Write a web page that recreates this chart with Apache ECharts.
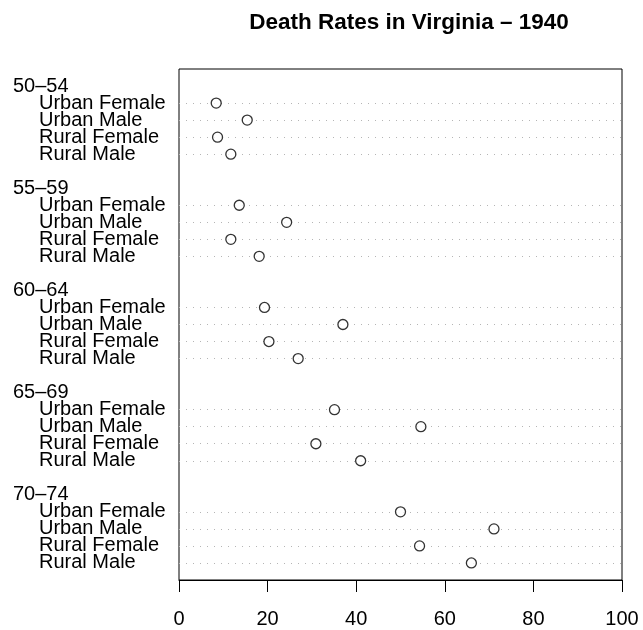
<!DOCTYPE html>
<html>
<head>
<meta charset="utf-8">
<script src="https://cdn.jsdelivr.net/npm/echarts@6/dist/echarts.min.js"></script>
<style>html,body{margin:0;padding:0;background:#fff;}#c{width:643px;height:630px;}</style>
</head>
<body>
<div id="c"></div>
<script>
var groups = ['50–54', '55–59', '60–64', '65–69', '70–74'];
var items = ['Urban Female', 'Urban Male', 'Rural Female', 'Rural Male'];
var urbanFemale = [8.4, 13.6, 19.3, 35.1, 50.0];
var urbanMale = [15.4, 24.3, 37.0, 54.6, 71.1];
var ruralFemale = [8.7, 11.7, 20.3, 30.9, 54.3];
var ruralMale = [11.7, 18.1, 26.9, 41.0, 66.0];
var xTicks = [0, 20, 40, 60, 80, 100];
var title = 'Death Rates in Virginia – 1940';

var seriesValues = [urbanFemale, urbanMale, ruralFemale, ruralMale];
var nRows = groups.length * (items.length + 2) - 1; // 29
var labelMap = {};
var points = [];
var rowPositions = [];
groups.forEach(function (g, gi) {
  var top = nRows - gi * (items.length + 2);
  labelMap[top] = {text: g, header: true};
  items.forEach(function (it, ii) {
    var pos = top - 1 - ii;
    labelMap[pos] = {text: it, header: false};
    rowPositions.push(pos);
    points.push([seriesValues[ii][gi], pos]);
  });
});

var FONT = '"Liberation Sans", Arial, Helvetica, sans-serif';
var chart = echarts.init(document.getElementById('c'), null, {renderer: 'canvas'});
chart.setOption({
  animation: false,
  backgroundColor: '#fff',
  title: {
    text: title,
    left: 404,
    top: 6,
    textAlign: 'center',
    textStyle: {fontFamily: FONT, fontSize: 22.5, fontWeight: 'bold', color: '#000'}
  },
  grid: {
    left: 179, right: 21, top: 69, bottom: 50,
    show: true, borderColor: '#000', borderWidth: 1, backgroundColor: 'transparent'
  },
  xAxis: {
    type: 'value', min: xTicks[0], max: xTicks[xTicks.length - 1], interval: 20,
    axisLine: {show: true, lineStyle: {color: '#000', width: 1}},
    axisTick: {show: true, length: 12, lineStyle: {color: '#000', width: 1}},
    splitLine: {show: false},
    axisLabel: {
      margin: 29, color: '#000', fontFamily: FONT, fontSize: 20,
      formatter: function (v) { return xTicks.indexOf(v) >= 0 ? String(v) : ''; }
    }
  },
  yAxis: {
    type: 'value', min: 0, max: nRows + 1, interval: 1,
    axisLine: {show: false}, axisTick: {show: false}, splitLine: {show: false},
    axisLabel: {
      align: 'left', margin: 166, color: '#000', fontFamily: FONT, fontSize: 20,
      formatter: function (v) {
        var l = labelMap[v];
        if (!l) return '';
        return l.header ? '{h|' + l.text + '}' : '{i|' + l.text + '}';
      },
      rich: {
        h: {fontFamily: FONT, fontSize: 20, color: '#000', lineHeight: 20},
        i: {fontFamily: FONT, fontSize: 20, color: '#000', lineHeight: 20, padding: [0, 0, 0, 26]}
      }
    }
  },
  series: [{
    type: 'scatter',
    data: points,
    symbol: 'circle',
    symbolSize: 10,
    itemStyle: {color: '#fff', borderColor: '#000', borderWidth: 1.3},
    z: 5,
    markLine: {
      silent: true,
      symbol: ['none', 'none'],
      label: {show: false},
      lineStyle: {color: '#b5b5b5', type: [1, 6], width: 1},
      data: rowPositions.map(function (p) { return {yAxis: p}; })
    }
  }]
});
</script>
</body>
</html>
